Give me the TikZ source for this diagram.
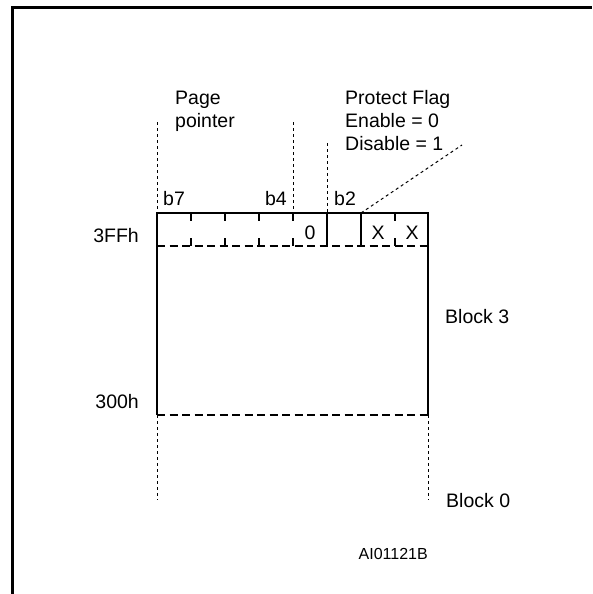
\documentclass[tikz,border=0pt]{standalone}
\usepackage{fontspec}
\setmainfont{Liberation Sans}
\begin{document}
\begin{tikzpicture}[x=1pt,y=-1pt,
  lbl/.style={inner sep=0pt,font=\fontsize{19.5}{23}\selectfont},
  small/.style={inner sep=0pt,font=\fontsize{16}{19}\selectfont},
  guide/.style={line width=1pt,dash pattern=on 3pt off 3pt},
  boxline/.style={line width=2pt},
  dashline/.style={line width=2pt,dash pattern=on 8pt off 4.5pt},
  frameline/.style={line width=3pt}]
\useasboundingbox (0,0) rectangle (592,594);
% frame
\draw[frameline] (12.5,594) -- (12.5,7.5) -- (592,7.5);
% key coordinates
\coordinate (tl) at (157,213);
\coordinate (tr) at (428,213);
\coordinate (bl) at (157,415);
\coordinate (br) at (428,415);
\coordinate (rl) at (157,246);
\coordinate (rr) at (428,246);
% box
\draw[boxline] (bl) -- (tl) -- (tr) -- (br);
\draw[dashline] (rl) -- (rr);
\draw[dashline] (bl) -- (br);
% dividers with ticks
\foreach \x in {191,225,259,293,395}{
  \draw[boxline] (\x,213) -- (\x,221);
  \draw[boxline] (\x,238) -- (\x,246);
}
\draw[boxline] (327,213) -- (327,246);
\draw[boxline] (361,213) -- (361,246);
% guides above
\coordinate (g1) at (157,122);
\coordinate (g4) at (293,122);
\coordinate (g2) at (327,143);
\coordinate (gd) at (462,145);
\draw[guide] (g1) -- (tl);
\draw[guide] (g4) -- (293,213);
\draw[guide] (g2) -- (327,213);
\draw[guide] (361,213) -- (gd);
% guides below
\coordinate (e1) at (157,500);
\coordinate (e2) at (428,500);
\draw[guide] (bl) -- (e1);
\draw[guide] (br) -- (e2);
% labels
\node[lbl,anchor=base west] (page) at (175,104) {Page};
\node[lbl,anchor=base west] (pointer) at (175,127) {pointer};
\node[lbl,anchor=base west] (pf) at (345,104) {Protect Flag};
\node[lbl,anchor=base west] (en) at (345,127) {Enable = 0};
\node[lbl,anchor=base west] (dis) at (345,150) {Disable = 1};
\node[lbl,anchor=base west] (b7) at (163,205) {b7};
\node[lbl,anchor=base east] (b4) at (287,205) {b4};
\node[lbl,anchor=base west] (b2) at (334,205) {b2};
\node[lbl,anchor=base] (zero) at (310,239) {0};
\node[lbl,anchor=base] (x1) at (378,239) {X};
\node[lbl,anchor=base] (x2) at (412,239) {X};
\node[lbl,anchor=base east] (top) at (139,242) {3FFh};
\node[lbl,anchor=base east] (bot) at (139,408) {300h};
\node[lbl,anchor=base west] (blk3) at (445,323) {Block 3};
\node[lbl,anchor=base west] (blk0) at (446,507) {Block 0};
\node[small,anchor=base east] (ref) at (428,559) {AI01121B};
\end{tikzpicture}
\end{document}
